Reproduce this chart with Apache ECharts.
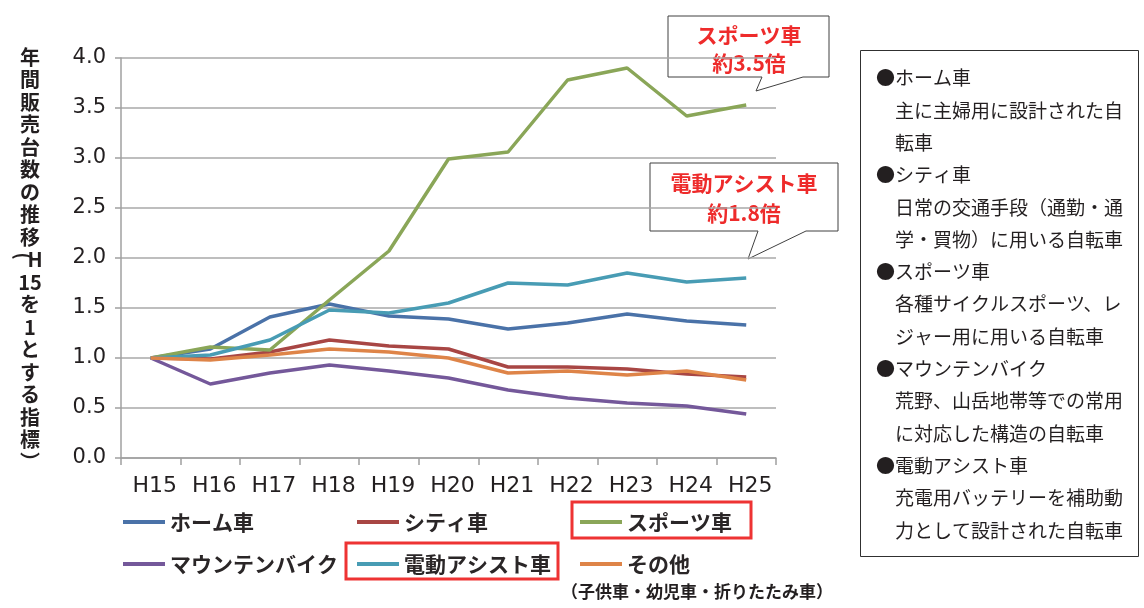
<!DOCTYPE html>
<html><head><meta charset="utf-8">
<script src="https://cdn.jsdelivr.net/npm/echarts@6/dist/echarts.min.js"></script>
<style>html,body{margin:0;padding:0;background:#fff}#c{width:1144px;height:608px}</style>
</head><body><div id="c"></div>
<script>
const years = ['H15','H16','H17','H18','H19','H20','H21','H22','H23','H24','H25'];
const seriesNames = ['ホーム車','シティ車','スポーツ車','マウンテンバイク','電動アシスト車','その他'];
const homeBike     = [1.00,1.09,1.41,1.54,1.42,1.39,1.29,1.35,1.44,1.37,1.33];
const cityBike     = [1.00,0.99,1.06,1.18,1.12,1.09,0.91,0.91,0.89,0.84,0.81];
const sportsBike   = [1.00,1.11,1.08,1.58,2.07,2.99,3.06,3.78,3.90,3.42,3.53];
const mountainBike = [1.00,0.74,0.85,0.93,0.87,0.80,0.68,0.60,0.55,0.52,0.44];
const electricBike = [1.00,1.03,1.18,1.48,1.45,1.55,1.75,1.73,1.85,1.76,1.80];
const otherBike    = [1.00,0.98,1.03,1.09,1.06,1.00,0.85,0.87,0.83,0.87,0.78];
const yAxisTitle = ['年','間','販','売','台','数','の','推','移','\u2002H','15','を','1','と','す','る','指','標','︶'];
const calloutSports = ['スポーツ車','約3.5倍'];
const calloutElectric = ['電動アシスト車','約1.8倍'];
const legendNote = '（子供車・幼児車・折りたたみ車）';
const descLines = [
 '●ホーム車','\u3000主に主婦用に設計された自','\u3000転車',
 '●シティ車','\u3000日常の交通手段（通勤・通','\u3000学・買物）に用いる自転車',
 '●スポーツ車','\u3000各種サイクルスポーツ、レ','\u3000ジャー用に用いる自転車',
 '●マウンテンバイク','\u3000荒野、山岳地帯等での常用','\u3000に対応した構造の自転車',
 '●電動アシスト車','\u3000充電用バッテリーを補助動','\u3000力として設計された自転車'
];
const colors = ['#4a72a8','#a84644','#8aa658','#74589a','#489cb4','#de8448'];
const allData = [homeBike,cityBike,sportsBike,mountainBike,electricBike,otherBike];

const jp = '"Noto Sans CJK JP", "Noto Sans", sans-serif';
const chart = echarts.init(document.getElementById('c'));
const legendBase = {
  orient:'vertical', icon:'rect', itemWidth:42, itemHeight:4, itemGap:20, padding:0,
  textStyle:{fontFamily:jp, fontSize:21, fontWeight:'bold', color:'#2a2627', lineHeight:22},
  selectedMode:false
};
chart.setOption({
  animation:false,
  color: colors,
  grid:{left:121, top:58, width:655, height:400, containLabel:false},
  xAxis:{
    type:'category', data:years, boundaryGap:true,
    axisLine:{lineStyle:{color:'#a0a0a0', width:1.5}},
    axisTick:{show:true, length:7, lineStyle:{color:'#a0a0a0', width:1.5}},
    axisLabel:{fontFamily:'"DejaVu Sans", sans-serif', fontSize:22, color:'#231f20', margin:17, padding:[0,0,0,8]}
  },
  yAxis:{
    type:'value', min:0, max:4, interval:0.5,
    axisLine:{show:true, lineStyle:{color:'#a0a0a0', width:1.5}},
    axisTick:{show:true, length:6, lineStyle:{color:'#a0a0a0', width:1.5}},
    splitLine:{lineStyle:{color:'#a8a8a8', width:1.5}},
    axisLabel:{fontFamily:'"DejaVu Sans", sans-serif', fontSize:21, color:'#231f20', margin:15,
      formatter: v => v.toFixed(1)}
  },
  legend:[
    Object.assign({}, legendBase, {left:123, top:511, data:[seriesNames[0], seriesNames[3]]}),
    Object.assign({}, legendBase, {left:357, top:511, data:[seriesNames[1], seriesNames[4]]}),
    Object.assign({}, legendBase, {left:580, top:511, data:[seriesNames[2], seriesNames[5]]})
  ],
  series: seriesNames.map((n,i)=>({
    name:n, type:'line', data:allData[i], showSymbol:false, symbol:'none',
    lineStyle:{width:3.5, color:colors[i]}, itemStyle:{color:colors[i]}
  })),
  graphic:[
    {type:'text', x:30, y:46, style:{
      text: yAxisTitle.join('\n'), fontFamily:jp, fontSize:20, fontWeight:'bold',
      lineHeight:22.5, fill:'#231f20', align:'center', verticalAlign:'top'}},
    {type:'text', x:24, y:256, rotation:-Math.PI/2, style:{
      text:'(', fontFamily:jp, fontSize:20, fontWeight:'bold', fill:'#231f20', align:'center', verticalAlign:'middle'}},
    // legend highlight boxes
    {type:'rect', shape:{x:572, y:502, width:179, height:36}, style:{fill:null, stroke:'#ee3333', lineWidth:3}},
    {type:'rect', shape:{x:346, y:543, width:212, height:36}, style:{fill:null, stroke:'#ee3333', lineWidth:3}},
    {type:'text', x:697, y:592, style:{text:legendNote, fontFamily:jp, fontSize:17, fontWeight:'bold',
      fill:'#231f20', align:'center', verticalAlign:'middle'}},
    // callouts
    {type:'polygon', shape:{points:[[668,16],[829,16],[829,77],[803,77],[756,91],[762,77],[668,77]]},
      style:{fill:'#fff', stroke:'#404040', lineWidth:1}},
    {type:'text', x:749, y:21, style:{text:calloutSports.join('\n'), fontFamily:jp, fontSize:21, fontWeight:'bold',
      lineHeight:28, fill:'#ee2b2b', align:'center', verticalAlign:'top'}},
    {type:'polygon', shape:{points:[[650,163],[838,163],[838,231],[806,231],[748,259],[758,231],[650,231]]},
      style:{fill:'#fff', stroke:'#404040', lineWidth:1}},
    {type:'text', x:744, y:168, style:{text:calloutElectric.join('\n'), fontFamily:jp, fontSize:21, fontWeight:'bold',
      lineHeight:30, fill:'#ee2b2b', align:'center', verticalAlign:'top'}},
    // description box
    {type:'rect', shape:{x:860.5, y:50.5, width:278, height:506}, style:{fill:'#fff', stroke:'#303030', lineWidth:1}},
    {type:'text', x:876, y:62, style:{text:descLines.join('\n'), fontFamily:jp, fontSize:19,
      lineHeight:32.3, fill:'#231f20', align:'left', verticalAlign:'top'}}
  ]
});
</script></body></html>
